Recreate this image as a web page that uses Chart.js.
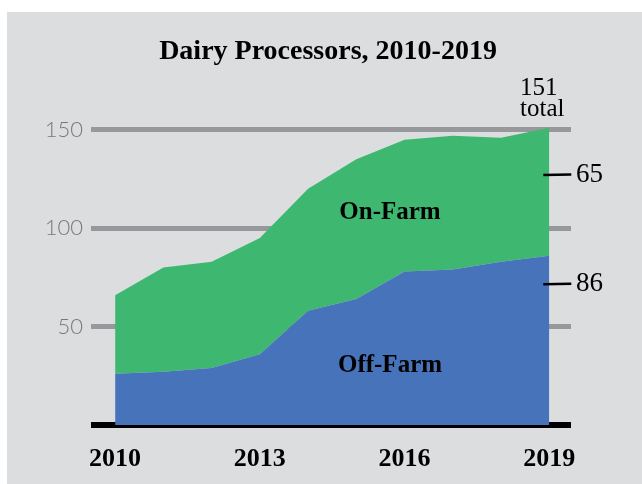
<!DOCTYPE html>
<html>
<head>
<meta charset="utf-8">
<script src="https://cdn.jsdelivr.net/npm/chart.js@4"></script>
<style>
  html, body { margin: 0; padding: 0; background: #ffffff; }
  #wrap { position: relative; width: 642px; height: 484px; overflow: hidden; }
  #panel { position: absolute; left: 7px; top: 12px; width: 635px; height: 472px; background: #dcdddf; }
  #c { position: absolute; left: 0; top: 0; }
</style>
</head>
<body>
<div id="wrap">
  <div id="panel"></div>
  <canvas id="c" width="642" height="484"></canvas>
</div>
<script>
const years = [2010, 2011, 2012, 2013, 2014, 2015, 2016, 2017, 2018, 2019];
const offFarm = [26, 27, 29, 36, 58, 64, 78, 79, 83, 86];
const onFarm  = [40, 53, 54, 59, 62, 71, 67, 68, 63, 65];
const xTickYears = [2010, 2013, 2016, 2019];
const yTickValues = [0, 50, 100, 150];
const chartTitle = 'Dairy Processors, 2010-2019';
const seriesNames = ['Off-Farm', 'On-Farm'];

const SERIF = '"Liberation Serif", "Times New Roman", serif';
const SANS = 'Lato, "Open Sans", sans-serif';

const annot = {
  id: 'annot',
  afterDatasetsDraw(chart) {
    const ctx = chart.ctx;
    const x = chart.scales.x, y = chart.scales.y;
    const last = years.length - 1;
    const xEnd = x.getPixelForValue(years[last]);
    ctx.save();
    // title
    ctx.fillStyle = '#000';
    ctx.font = 'bold 28px ' + SERIF;
    ctx.textAlign = 'center';
    ctx.textBaseline = 'middle';
    ctx.fillText(chartTitle, 328, 52);
    // series labels
    ctx.font = 'bold 25px ' + SERIF;
    ctx.fillText(seriesNames[1], 390, 213);
    ctx.fillText(seriesNames[0], 390, 366);
    // right-side value callouts
    ctx.strokeStyle = '#000';
    ctx.lineWidth = 2.5;
    const callouts = [[onFarm[last], y.getPixelForValue(127)], [offFarm[last], y.getPixelForValue(71.5)]];
    ctx.font = '27px ' + SERIF;
    ctx.textAlign = 'left';
    for (const [val, py] of callouts) {
      ctx.beginPath();
      ctx.moveTo(xEnd - 6, py);
      ctx.lineTo(xEnd + 22, py - 0.5);
      ctx.stroke();
      ctx.fillText(String(val), 576, py);
    }
    // total
    const total = offFarm[last] + onFarm[last];
    ctx.font = '25px ' + SERIF;
    ctx.textAlign = 'left';
    ctx.textBaseline = 'alphabetic';
    ctx.fillText(String(total), 520, 95);
    ctx.fillText('total', 520, 116);
    ctx.restore();
  }
};

new Chart(document.getElementById('c'), {
  type: 'line',
  data: {
    datasets: [
      {
        label: seriesNames[0],
        data: years.map((yr, i) => ({ x: yr, y: offFarm[i] })),
        backgroundColor: '#4673b9',
        borderWidth: 0,
        pointRadius: 0,
        fill: 'origin',
        tension: 0,
        clip: false
      },
      {
        label: seriesNames[1],
        data: years.map((yr, i) => ({ x: yr, y: onFarm[i] })),
        backgroundColor: '#3eb870',
        borderWidth: 0,
        pointRadius: 0,
        fill: '-1',
        tension: 0,
        clip: false
      }
    ]
  },
  options: {
    responsive: false,
    animation: false,
    layout: { padding: { left: 0, right: 71, top: 120, bottom: 0 } },
    plugins: {
      legend: { display: false },
      tooltip: { enabled: false },
      title: { display: false }
    },
    scales: {
      x: {
        type: 'linear',
        min: 2009.5,
        max: 2019.45,
        grid: { display: false },
        border: { display: false },
        afterBuildTicks: s => { s.ticks = xTickYears.map(v => ({ value: v })); },
        afterFit: s => { s.height = 59; },
        ticks: {
          color: '#000',
          font: { family: SERIF, size: 26, weight: 'bold' },
          padding: 11,
          maxRotation: 0,
          autoSkip: false,
          callback: v => String(v)
        }
      },
      y: {
        stacked: true,
        min: 0,
        max: 155,
        border: { display: false },
        afterBuildTicks: s => { s.ticks = yTickValues.map(v => ({ value: v })); },
        afterFit: s => { s.width = 91; },
        grid: {
          drawTicks: false,
          color: c => c.tick && c.tick.value === 0 ? '#000000' : '#97989b',
          lineWidth: c => c.tick && c.tick.value === 0 ? 6 : 5
        },
        ticks: {
          color: '#77787a',
          font: { family: SANS, size: 22, weight: '300' },
          padding: 8,
          callback: v => v === 0 ? '' : String(v)
        }
      }
    }
  },
  plugins: [annot]
});
</script>
</body>
</html>
